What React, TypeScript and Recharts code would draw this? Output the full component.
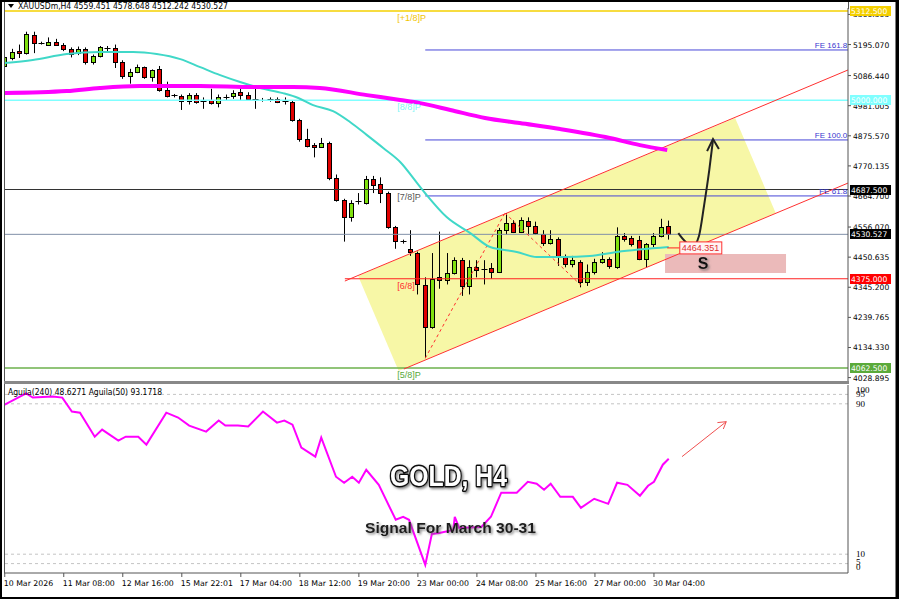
import React from "react";
import {
  ComposedChart, Bar, Line, Area, XAxis, YAxis,
  ReferenceLine, ReferenceArea, ReferenceDot,
} from "recharts";

// XAUUSDm H4 bars, 10 Mar 2026 08:00 .. 30 Mar 2026 12:00
const opens = [5120, 5148, 5172, 5167, 5228, 5200, 5195, 5205, 5195, 5178, 5165, 5180, 5133, 5155, 5180, 5183, 5135, 5085, 5098, 5115, 5082, 5108, 5036, 5018, 5016, 4996, 5018, 4998, 5000, 4990, 5010, 5014, 5028, 5020, 5005, 5002, 5000, 5003, 4996, 4994, 4930, 4865, 4845, 4838, 4850, 4728, 4650, 4590, 4643, 4640, 4725, 4708, 4675, 4555, 4508, 4480, 4465, 4352, 4205, 4380, 4370, 4395, 4440, 4350, 4415, 4408, 4412, 4400, 4545, 4570, 4540, 4578, 4560, 4530, 4500, 4515, 4450, 4425, 4435, 4365, 4400, 4435, 4445, 4415, 4525, 4518, 4510, 4445, 4495, 4525, 4559.451];
const highs = [5170, 5180, 5195, 5240, 5240, 5205, 5220, 5215, 5200, 5185, 5188, 5185, 5160, 5190, 5190, 5195, 5140, 5110, 5125, 5118, 5108, 5120, 5065, 5022, 5020, 5025, 5025, 5010, 5040, 5020, 5020, 5035, 5045, 5028, 5040, 5008, 5010, 5010, 5010, 5000, 4935, 4900, 4850, 4868, 4855, 4740, 4655, 4650, 4675, 4735, 4735, 4730, 4680, 4560, 4512, 4545, 4470, 4380, 4465, 4540, 4465, 4450, 4448, 4440, 4440, 4440, 4430, 4553, 4605, 4580, 4590, 4590, 4575, 4545, 4545, 4520, 4460, 4455, 4440, 4425, 4445, 4468, 4450, 4555, 4535, 4525, 4525, 4500, 4535, 4585, 4578.648];
const lows = [5110, 5140, 5148, 5160, 5165, 5195, 5190, 5190, 5172, 5150, 5158, 5125, 5125, 5150, 5170, 5113, 5075, 5058, 5095, 5075, 5065, 5030, 5010, 5010, 4966, 4985, 4988, 4970, 4985, 4975, 5000, 5005, 5000, 4998, 4970, 4995, 4995, 4990, 4985, 4925, 4855, 4835, 4800, 4835, 4720, 4645, 4505, 4575, 4635, 4635, 4675, 4640, 4550, 4480, 4498, 4455, 4320, 4097, 4200, 4340, 4355, 4390, 4315, 4320, 4380, 4355, 4375, 4395, 4530, 4535, 4535, 4530, 4530, 4490, 4495, 4420, 4415, 4415, 4345, 4350, 4390, 4428, 4410, 4410, 4505, 4488, 4440, 4415, 4485, 4520, 4512.242];
const closes = [5150, 5170, 5165, 5232, 5200, 5198, 5205, 5195, 5178, 5163, 5180, 5133, 5155, 5185, 5183, 5135, 5085, 5098, 5115, 5082, 5105, 5036, 5016, 5016, 4996, 5018, 4993, 4995, 4990, 5012, 5012, 5025, 5020, 5005, 5000, 5000, 5003, 4995, 4994, 4930, 4865, 4840, 4838, 4850, 4728, 4650, 4590, 4640, 4646, 4725, 4705, 4675, 4555, 4507, 4502, 4468, 4355, 4205, 4375, 4370, 4395, 4440, 4350, 4415, 4405, 4405, 4400, 4545, 4570, 4540, 4580, 4560, 4535, 4500, 4515, 4450, 4425, 4440, 4365, 4400, 4435, 4445, 4418, 4525, 4515, 4495, 4445, 4495, 4525, 4555, 4530.527];

// moving averages (bar position, price)
const maFastX = [0, 3.8, 8.4, 12.9, 17.4, 20.6, 23.8, 26.5, 29.2, 31.9, 34.6, 37.7, 39.8, 41.8, 44.5, 46.8, 49.1, 51.3, 53.6, 55.9, 57.2, 59.9, 63.1, 65.8, 69.4, 72.1, 75.7, 79.3, 83.0, 90];
const maFastY = [5130, 5141, 5162, 5169, 5169, 5162, 5144, 5116, 5088, 5064, 5043, 5025, 5008, 4983, 4962, 4924, 4878, 4833, 4784, 4710, 4668, 4591, 4535, 4486, 4469, 4451, 4451, 4455, 4469, 4486];
const maSlowX = [0, 8.4, 12.9, 18.3, 26.5, 33.7, 39.1, 42.7, 49.1, 53.6, 56.3, 60.4, 65.1, 69.8, 75.3, 82.0, 86.1, 89.8];
const maSlowY = [5025, 5032, 5043, 5050, 5050, 5046, 5046, 5043, 5018, 5001, 4990, 4966, 4938, 4920, 4899, 4868, 4843, 4826];

// Aguila(50) oscillator
const aguilaX = [0, 2.9, 3.8, 6.5, 7.8, 9.1, 10.2, 12.2, 13.2, 15.4, 16.4, 18.1, 19.2, 21.9, 23.5, 25.0, 27.3, 29.0, 29.9, 31.6, 33.0, 35.0, 36.9, 37.9, 39.0, 40.2, 42.1, 42.9, 44.9, 46.0, 47.1, 48.0, 49.0, 50.7, 53.0, 54.0, 54.8, 57.0, 57.9, 58.9, 60.8, 61.0, 61.6, 64.6, 65.9, 67.3, 69.4, 70.9, 72.1, 73.1, 74.0, 75.3, 77.0, 78.1, 79.9, 81.8, 83.0, 84.4, 86.1, 87.2, 88.0, 89.2, 90.0];
const aguilaY = [89.6, 95.5, 93.3, 93.9, 93.3, 85.9, 85.3, 72.5, 76.3, 70.4, 72.5, 72.5, 68.3, 85.3, 82.7, 78.4, 75.2, 81.1, 78.4, 78.4, 77.9, 85.9, 80.0, 81.1, 78.9, 66.7, 61.9, 72.0, 51.2, 48.0, 51.2, 48.0, 54.9, 46.9, 28.3, 29.9, 28.3, 4.3, 20.8, 21.3, 22.9, 29.9, 24.0, 24.5, 29.9, 42.7, 42.7, 48.5, 47.5, 44.3, 47.5, 40.5, 40.5, 34.7, 39.5, 36.8, 48.0, 46.9, 41.1, 46.4, 48.5, 57.6, 60.8];

const timeTicks = [0, 8, 16, 24, 32, 40, 48, 56, 64, 72, 80, 88];
const timeLabels = ["10 Mar 2026", "11 Mar 08:00", "12 Mar 16:00", "15 Mar 22:01", "17 Mar 04:00", "18 Mar 12:00", "19 Mar 20:00", "23 Mar 00:00", "24 Mar 08:00", "25 Mar 16:00", "27 Mar 00:00", "30 Mar 04:00"];
const priceTicks = [5300.505, 5195.07, 5086.44, 4981.005, 4875.57, 4770.135, 4664.7, 4556.07, 4450.635, 4345.2, 4239.765, 4134.33, 4028.895];
const levelTicks = [0, 5, 10, 90, 95, 100];
const levelLines = [95, 90, 10, 5];

// murrey levels and fibo expansion
const murreyPrices = [5312.5, 5000, 4687.5, 4375, 4062.5];
const murreyNames = ["[+1/8]P", "[8/8]P", "[7/8]P", "[6/8]", "[5/8]P"];
const murreyColors = ["#f2c400", "#7ff5f5", "#555555", "#ff3030", "#58a838"];
const murreyBoxBg = ["#f5d000", "#80ffff", "#000000", "#ff0000", "#5aaa3a"];
const feLevels = [5176, 4861, 4665];
const feNames = ["FE 161.8", "FE 100.0", "FE 61.8"];
const lastPrice = 4530.527;

// channel drawing
const upperX = [46.1, 114.3];
const upperY = [4367, 5106];
const lowerX = [54.1, 114.3];
const lowerY = [4059, 4710];
const fillX = [47.9, 53.4, 99.0, 104.5];
const fillLo = [4384.6, 4052, 4544.4, 4605.2];
const fillHi = [4384.6, 4446.1, 4937.8, 4605.2];
const fiboX = [57.0, 67.8, 78.2];
const fiboY = [4097, 4605, 4350];

// forecast arrow
const arrowX = [91.3, 92.3, 93.3, 94.1, 94.8, 95.5, 96.0];
const arrowY = [4535, 4504, 4490, 4525, 4633, 4756, 4861];
const headX = [95.2, 96.0, 96.8];
const headY = [4822, 4864, 4829];
const sZone = [89.5, 105.9, 4395, 4462];
const signalPrice = 4464.351;

const redArrowX = [91.8, 97.8];
const redArrowY = [61.9, 80.5];
const redHeadX = [96.6, 97.8, 97.4];
const redHeadY = [80.0, 80.5, 76.6];

const candles = opens.map((o, i) => ({ i, range: [lows[i], highs[i]], open: o, high: highs[i], low: lows[i], close: closes[i] }));
const pts = (xs: number[], ys: number[]) => xs.map((i, k) => ({ i, v: ys[k] }));
const channelFill = fillX.map((i, k) => ({ i, band: [fillLo[k], fillHi[k]] }));
const aguila = pts(aguilaX, aguilaY);

const FONT = "'DejaVu Sans', sans-serif";
const ARIAL = "'Liberation Sans', Arial, sans-serif";
const X_DOMAIN = [-0.1, 114.3];
const Y_DOMAIN = [4017, 5323];

function Candle(props: any) {
  const { x, y, width, height, payload } = props;
  if (x == null || payload == null) return null;
  const top = Math.min(y, y + height);
  const span = Math.abs(height);
  const k = payload.high > payload.low ? span / (payload.high - payload.low) : 0;
  const toY = (v: number) => top + (payload.high - v) * k;
  const cx = Math.floor(x + width / 2) + 0.5;
  const yo = toY(payload.open);
  const yc = toY(payload.close);
  const bt = Math.round(Math.min(yo, yc)) + 0.5;
  const bb = Math.round(Math.max(yo, yc)) + 0.5;
  return (
    <g>
      <line x1={cx} x2={cx} y1={top} y2={top + span} stroke="#000" strokeWidth={1} />
      {bb - bt < 2 ? (
        <line x1={cx - 3} x2={cx + 3} y1={bt} y2={bt} stroke="#000" strokeWidth={1} />
      ) : (
        <rect x={cx - 2} y={bt} width={4} height={bb - bt} fill={payload.close >= payload.open ? "#80e010" : "#e00000"} stroke="#000" strokeWidth={1} />
      )}
    </g>
  );
}

const priceBox = (text: string, bg: string, fg: string) => (props: any) => {
  const vb = props.viewBox || {};
  const x = vb.x + vb.width + 2;
  const y = Math.round(vb.y);
  return (
    <g>
      <rect x={x} y={y - 5} width={41} height={10} fill={bg} />
      <text x={x + 1} y={y + 3} fontSize={7.6} fontFamily={FONT} fill={fg}>{text}</text>
    </g>
  );
};

const textDot = (text: string, color: string, dx: number, dy: number, anchor: string, size: number) => (p: any) => (
  <text x={p.cx + dx} y={p.cy + dy} fill={color} fontSize={size} fontFamily={ARIAL} textAnchor={anchor}>{text}</text>
);

function PriceTick(p: any) {
  return (
    <text x={p.x} y={p.y + 3} fontSize={7.6} fontFamily={FONT} fill="#000">{p.payload.value.toFixed(3)}</text>
  );
}

function TimeTick(p: any) {
  const idx = timeTicks.indexOf(p.payload.value);
  return (
    <text x={p.x - 1} y={p.y + 7} fontSize={7.8} fontFamily={FONT} fill="#000">{timeLabels[idx]}</text>
  );
}

function LevelTick(p: any) {
  const v = p.payload.value;
  const dy = v === 100 ? 8 : v === 0 ? -3 : v === 5 ? 1 : 3;
  return (
    <text x={p.x} y={p.y + dy} fontSize={9} fontFamily="'Liberation Serif', serif" fill="#000">{v}</text>
  );
}

export default function App() {
  const header = `XAUUSDm,H4  ${opens[90].toFixed(3)} ${highs[90].toFixed(3)} ${lows[90].toFixed(3)} ${closes[90].toFixed(3)}`;
  const boxes = [
    { p: murreyPrices[0], bg: murreyBoxBg[0], fg: "#fff" },
    { p: murreyPrices[1], bg: murreyBoxBg[1], fg: "#fff" },
    { p: murreyPrices[2], bg: murreyBoxBg[2], fg: "#fff" },
    { p: lastPrice, bg: "#000", fg: "#fff" },
    { p: murreyPrices[3], bg: murreyBoxBg[3], fg: "#fff" },
    { p: murreyPrices[4], bg: murreyBoxBg[4], fg: "#fff" },
  ];
  return (
    <div style={{ position: "absolute", left: 0, top: 0, width: 900, height: 599, background: "#fff", overflow: "hidden" }}>
      <div style={{ position: "absolute", left: 0, top: 0 }}>
        <ComposedChart width={900} height={382} data={candles} margin={{ top: 8, right: 0, bottom: 1, left: 4 }}>
          <XAxis type="number" dataKey="i" domain={X_DOMAIN} allowDataOverflow hide />
          <YAxis orientation="right" width={52} domain={Y_DOMAIN} allowDataOverflow ticks={priceTicks} interval={0}
            tick={<PriceTick />} tickSize={3} tickLine={{ stroke: "#555" }} axisLine={{ stroke: "#555" }} />

          <Area data={channelFill} dataKey="band" type="linear" fill="#f7f7a6" fillOpacity={1} stroke="none" isAnimationActive={false} />
          <ReferenceArea x1={sZone[0]} x2={sZone[1]} y1={sZone[2]} y2={sZone[3]} fill="#ebbaba" fillOpacity={1} stroke="none" />

          <ReferenceLine y={murreyPrices[0]} stroke="#f5d000" strokeWidth={1.5} />
          <ReferenceLine y={murreyPrices[1]} stroke="#80ffff" strokeWidth={1.5} />
          <ReferenceLine y={murreyPrices[2]} stroke="#333" />
          <ReferenceLine y={lastPrice} stroke="#8090a8" />
          <ReferenceLine segment={[{ x: upperX[0], y: murreyPrices[3] }, { x: 114.3, y: murreyPrices[3] }]} stroke="#ff2020" />
          <ReferenceLine y={murreyPrices[4]} stroke="#6cb04c" strokeWidth={1.5} />
          {feLevels.map((p) => (
            <ReferenceLine key={p} segment={[{ x: fiboX[0], y: p }, { x: 114.3, y: p }]} stroke="#4646d8" />
          ))}

          <ReferenceLine segment={[{ x: upperX[0], y: upperY[0] }, { x: upperX[1], y: upperY[1] }]} stroke="#ff3030" />
          <ReferenceLine segment={[{ x: lowerX[0], y: lowerY[0] }, { x: lowerX[1], y: lowerY[1] }]} stroke="#ff3030" />
          <ReferenceLine segment={[{ x: fiboX[0], y: fiboY[0] }, { x: fiboX[1], y: fiboY[1] }]} stroke="#ff3030" strokeDasharray="3 3" />
          <ReferenceLine segment={[{ x: fiboX[1], y: fiboY[1] }, { x: fiboX[2], y: fiboY[2] }]} stroke="#ff3030" strokeDasharray="3 3" />

          <Line data={pts(maFastX, maFastY)} dataKey="v" type="monotone" stroke="#40d8c8" strokeWidth={2} dot={false} isAnimationActive={false} />
          <Line data={pts(maSlowX, maSlowY)} dataKey="v" type="monotone" stroke="#ff00ff" strokeWidth={4} dot={false} isAnimationActive={false} />

          <Bar dataKey="range" barSize={5} shape={<Candle />} isAnimationActive={false} />

          <Line data={pts(arrowX, arrowY)} dataKey="v" type="monotone" stroke="#222" strokeWidth={2} dot={false} isAnimationActive={false} />
          <Line data={pts(headX, headY)} dataKey="v" type="linear" stroke="#222" strokeWidth={2} dot={false} isAnimationActive={false} />

          <ReferenceLine segment={[{ x: 89.8, y: 4483 }, { x: 91.5, y: 4483 }]} stroke="#ff2020" />
          <ReferenceDot x={91.5} y={4483} r={0} shape={(p: any) => (
            <g>
              <rect x={p.cx} y={p.cy - 6} width={42} height={12} fill="#fff4f4" stroke="#ff3030" />
              <text x={p.cx + 2} y={p.cy + 3.5} fontSize={9} fontFamily={ARIAL} fill="#e03030">{signalPrice.toFixed(3)}</text>
            </g>
          )} />
          <ReferenceDot x={94.65} y={4430} r={0} shape={(p: any) => (
            <text x={p.cx} y={p.cy + 6} fill="#111" fontFamily={ARIAL} fontWeight="bold" fontSize={16} textAnchor="middle" filter="url(#soft)">S</text>
          )} />

          {murreyPrices.map((p, k) => (
            <ReferenceDot key={"m" + k} x={53.2} y={p} r={0} shape={textDot(murreyNames[k], murreyColors[k], 0, 10, "start", 9)} />
          ))}
          {feLevels.map((p, k) => (
            <ReferenceDot key={"f" + k} x={114.2} y={p} r={0} shape={textDot(feNames[k], "#3838d0", 0, -2, "end", 8)} />
          ))}
        </ComposedChart>
      </div>

      {/* price tags drawn above the price scale */}
      <div style={{ position: "absolute", left: 0, top: 0, pointerEvents: "none" }}>
        <ComposedChart width={900} height={382} data={candles} margin={{ top: 8, right: 52, bottom: 1, left: 4 }}>
          <XAxis type="number" dataKey="i" domain={X_DOMAIN} allowDataOverflow hide />
          <YAxis domain={Y_DOMAIN} allowDataOverflow hide />
          <Line dataKey="close" stroke="none" dot={false} isAnimationActive={false} />
          {boxes.map((b) => (
            <ReferenceLine key={b.p} y={b.p} strokeOpacity={0} label={priceBox(b.p.toFixed(3), b.bg, b.fg)} />
          ))}
        </ComposedChart>
      </div>

      <div style={{ position: "absolute", left: 0, top: 383 }}>
        <ComposedChart width={900} height={215} data={aguila} margin={{ top: 2, right: 0, bottom: 5, left: 4 }}>
          <XAxis type="number" dataKey="i" domain={X_DOMAIN} allowDataOverflow ticks={timeTicks} interval={0}
            tick={<TimeTick />} tickSize={4} height={20} tickLine={{ stroke: "#555" }} axisLine={{ stroke: "#555" }} />
          <YAxis orientation="right" width={52} domain={[0, 100]} allowDataOverflow ticks={levelTicks} interval={0}
            tick={<LevelTick />} tickLine={false} axisLine={{ stroke: "#555" }} />
          {levelLines.map((v) => (
            <ReferenceLine key={v} y={v} stroke="#c4c4c4" strokeDasharray="3 3" />
          ))}
          <Line dataKey="v" type="linear" stroke="#ff00ff" strokeWidth={2} dot={false} isAnimationActive={false} />
          <Line data={pts(redArrowX, redArrowY)} dataKey="v" type="linear" stroke="#f05050" strokeWidth={1} dot={false} isAnimationActive={false} />
          <Line data={pts(redHeadX, redHeadY)} dataKey="v" type="linear" stroke="#f05050" strokeWidth={1} dot={false} isAnimationActive={false} />
        </ComposedChart>
      </div>

      <svg width={900} height={599} style={{ position: "absolute", left: 0, top: 0, pointerEvents: "none" }}>
        <defs>
          <filter id="soft" x="-20%" y="-20%" width="150%" height="150%">
            <feDropShadow dx="1.5" dy="1.5" stdDeviation="1" floodColor="#666" floodOpacity="0.8" />
          </filter>
        </defs>
        <path d="M8 4 L14 4 L11 8 Z" fill="#000" />
        <text x={18} y={9} fontSize={8} fontFamily={FONT} fill="#000" textLength={210} lengthAdjust="spacingAndGlyphs">{header}</text>
        <text x={8} y={395} fontSize={8} fontFamily={FONT} fill="#000" textLength={154} lengthAdjust="spacingAndGlyphs">Aguila(240) 48.6271  Aguila(50) 93.1718</text>

        <text x={390} y={486} fontFamily="'Liberation Sans Narrow', 'Liberation Sans', Arial, sans-serif" fontWeight="bold" fontSize={29}
          fill="#fff" stroke="#111" strokeWidth={3} paintOrder="stroke" strokeLinejoin="round" filter="url(#soft)"
          textLength={117} lengthAdjust="spacingAndGlyphs">GOLD, H4</text>
        <text x={365} y={533} fontFamily={ARIAL} fontWeight="bold" fontSize={15} fill="#1a1a1a" filter="url(#soft)"
          textLength={171} lengthAdjust="spacingAndGlyphs">Signal For March 30-31</text>

        <line x1={4.5} x2={4.5} y1={2} y2={573} stroke="#555" />
        <line x1={848.5} x2={848.5} y1={2} y2={9} stroke="#555" />
        <rect x={4} y={381} width={845} height={3} fill="#888" />
        <rect x={1} y={1} width={897} height={597} fill="none" stroke="#000" strokeWidth={2} />
        <line x1={897} x2={897} y1={0} y2={599} stroke="#000" strokeWidth={3} />
      </svg>
    </div>
  );
}
